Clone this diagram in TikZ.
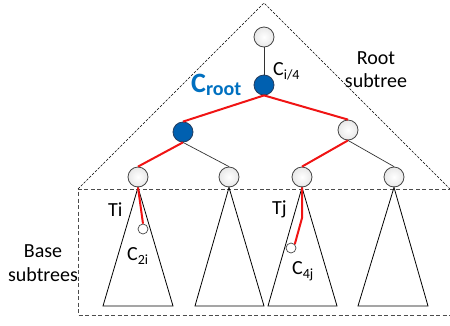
\documentclass[tikz,border=0pt]{standalone}
\usepackage{fontspec}
\setmainfont{Carlito}
\definecolor{nodeblue}{RGB}{0,96,176}
\definecolor{nodeblueedge}{RGB}{35,60,95}
\definecolor{textblue}{RGB}{0,112,192}
\definecolor{pathred}{RGB}{240,20,20}
\tikzset{
  tnode/.style={circle, draw=gray!55!black, line width=0.8pt, inner color=white, outer color=gray!18, minimum size=20pt, inner sep=0pt},
  bnode/.style={circle, draw=nodeblueedge, line width=0.8pt, fill=nodeblue, minimum size=20pt, inner sep=0pt},
  snode/.style={circle, draw=gray!55!black, line width=0.7pt, fill=white, minimum size=10pt, inner sep=0pt},
  gedge/.style={draw=gray!40!black, line width=0.7pt},
  redge/.style={draw=pathred, line width=2pt},
  lbl/.style={inner sep=0pt, font=\fontsize{20}{23}\selectfont},
  tri/.style={draw=black, line width=0.8pt, line join=miter},
  bigtri/.style={draw=black, line width=0.6pt, dash pattern=on 2.5pt off 1.5pt},
  boxd/.style={draw=gray!60!black, line width=0.8pt, dash pattern=on 4pt off 2.5pt}
}
\newcommand{\sub}[1]{\raisebox{-4pt}{\fontsize{14}{14}\selectfont #1}}
\begin{document}
\begin{tikzpicture}[x=1pt, y=-1pt]
\useasboundingbox (0,0) rectangle (450,325);
% dashed outlines
\draw[bigtri] (78,189) -- (264,3) -- (452,191);
\draw[boxd] (452,189) -- (78,189) -- (78,315) -- (452,315);
% nodes
\node[tnode] (n0) at (264,37) {};
\node[bnode] (nc) at (264,85) {};
\node[bnode] (nl) at (183,132) {};
\node[tnode] (nr) at (348,130) {};
\node[tnode] (na) at (138,177) {};
\node[tnode] (nb) at (229,177) {};
\node[tnode] (ncc) at (302,177) {};
\node[tnode] (nd) at (394,177) {};
% base triangles
\draw[tri] (na.south) -- (103,306) -- (173,306) -- cycle;
\draw[tri] (nb.south) -- (195,306) -- (264,306) -- cycle;
\draw[tri] (ncc.south) -- (268,306) -- (337,306) -- cycle;
\draw[tri] (nd.south) -- (358,306) -- (428,306) -- cycle;
% small nodes
\node[snode] (s1) at (143,229) {};
\node[snode] (s2) at (291,248) {};
% edges
\draw[gedge] (n0.south) -- (nc.north);
\draw[gedge] (nl.south) -- (nb.north);
\draw[gedge] (nr.south) -- (nd.north);
\draw[redge] (nc.south) -- (nl.north);
\draw[redge] (nc.south) -- (nr.north);
\draw[redge] (nl.south) -- (na.north);
\draw[redge] (nr.south) -- (ncc.north);
\draw[redge] (na.south) -- (s1.north);
\coordinate (bend) at (302,218);
\draw[redge, line join=round] (ncc.south) -- (bend) -- (s2.north east);
% labels
\node[lbl, anchor=base] (tRoot) at (376,64) {Root};
\node[lbl, anchor=base] (tRoot2) at (376,87) {subtree};
\node[lbl, anchor=base] (tBase) at (43,257) {Base};
\node[lbl, anchor=base] (tBase2) at (43,281) {subtrees};
\node[lbl, anchor=base west] (tTi) at (108,216) {Ti};
\node[lbl, anchor=base west] (tTj) at (272,214) {Tj};
\node[lbl, anchor=base west] (tci4) at (273,75) {C\sub{i/4}};
\node[lbl, anchor=base west] (tc2i) at (127,260) {C\sub{2i}};
\node[lbl, anchor=base west] (tc4j) at (292,274) {C\sub{4j}};
\node[inner sep=0pt, anchor=base west, text=textblue, font=\bfseries] (tcroot) at (191,92)
  {{\fontsize{28}{28}\selectfont C}\raisebox{-3pt}{\fontsize{20}{20}\selectfont root}};
\end{tikzpicture}
\end{document}
